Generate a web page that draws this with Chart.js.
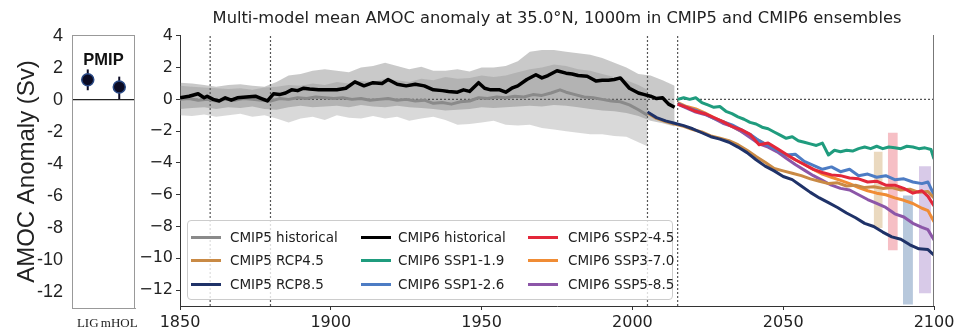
<!DOCTYPE html>
<html>
<head>
<meta charset="utf-8">
<script src="https://cdn.jsdelivr.net/npm/chart.js@4.4.1/dist/chart.umd.min.js"></script>
<style>
  body { margin: 0; background: #fff; width: 965px; height: 331px; position: relative; overflow: hidden; }
  #pmipChart { position: absolute; left: 0; top: 0; }
  #amocChart { position: absolute; left: 130px; top: 0; }
  #title { position: absolute; left: 180px; width: 754px; top: 8px; text-align: center;
           font: 16.3px 'DejaVu Sans'; color: #222; white-space: nowrap; }
  #pmipLabel { position: absolute; left: 72px; width: 63px; top: 50px; text-align: center;
               font: bold 16.5px 'Liberation Sans'; color: #111; }
  #legend { position: absolute; left: 187px; top: 220px; width: 486px; height: 80px; box-sizing: border-box;
            background: rgba(255,255,255,0.8); border: 1px solid #ccc; border-radius: 4px; }
  .item { position: absolute; font: 13.5px 'DejaVu Sans'; color: #222; white-space: nowrap; line-height: 16px; }
  .swatch { position: absolute; width: 30px; height: 3px; }
</style>
</head>
<body>
<canvas id="pmipChart" width="150" height="331"></canvas>
<canvas id="amocChart" width="835" height="331"></canvas>
<div id="title">Multi-model mean AMOC anomaly at 35.0°N, 1000m in CMIP5 and CMIP6 ensembles</div>
<div id="pmipLabel">PMIP</div>
<div id="legend"></div>
<script>
// AMOC anomaly at 35N, 1000m: PMIP panel plus CMIP5 / CMIP6 ensemble means.

const yTicks = [4, 2, 0, -2, -4, -6, -8, -10, -12];
const xTicks = [1850, 1900, 1950, 2000, 2050, 2100];
const refYears = [1860, 1880, 2005, 2015];

// PMIP
const pmipLabels = ['LIG', 'mHOL'];
const pmipMean = [1.25, 0.8];
const pmipHi = [1.9, 1.45];
const pmipLo = [0.6, 0.05];

// CMIP6 historical mean
const cmip6Years = [1850,1853,1856,1858,1859,1861,1863,1865,1867,1869,1872,1875,1877,1879,1881,1883,1885,1887,1889,1891,
    1893,1896,1899,1902,1905,1908,1911,1914,1917,1919,1922,1925,1928,1931,1934,1937,1939,1942,1944,1946,
    1949,1951,1953,1956,1958,1960,1962,1965,1968,1970,1972,1975,1978,1980,1982,1985,1987,1988,1990,1992,
    1994,1996,1999,2002,2004,2006,2008,2010,2012,2014];
const cmip6Hist = [0.1,0.2,0.35,0.1,0.2,0.0,-0.1,0.1,-0.05,0.1,0.15,0.2,0.05,-0.1,0.35,0.3,0.4,0.6,0.55,0.7,
    0.65,0.6,0.6,0.6,0.7,1.1,0.85,1.05,1.0,1.25,0.95,0.85,0.95,0.85,0.6,0.55,0.5,0.45,0.6,0.5,
    1.05,0.7,0.6,0.6,0.45,0.7,0.85,1.25,1.55,1.35,1.5,1.8,1.65,1.6,1.5,1.45,1.25,1.15,1.2,1.2,
    1.25,1.35,0.7,0.4,0.3,0.2,0.05,0.1,-0.3,-0.5];

// CMIP6 historical spread
const cmip6BandYears = [1850,1854,1858,1862,1866,1870,1874,1878,1882,1886,1890,1894,1898,1902,1906,1910,1914,1918,1922,1926,
    1930,1934,1938,1942,1946,1950,1954,1958,1962,1966,1970,1974,1978,1982,1986,1990,1994,1998,2002,2006,2010,2014];
const cmip6Hi = [1.05,1.0,0.9,0.8,0.9,0.95,0.85,0.8,1.1,1.5,1.6,1.8,1.9,1.8,1.7,2.0,2.1,2.3,2.1,1.9,
    2.05,1.8,1.8,1.9,1.75,2.0,2.0,2.1,2.4,3.0,3.1,3.1,3.0,2.9,2.8,2.6,2.3,2.0,1.6,1.5,1.2,0.85];
const cmip6Lo = [-0.6,-0.55,-0.5,-0.6,-0.5,-0.55,-0.45,-0.6,-0.65,-0.5,-0.4,-0.5,-0.45,-0.4,-0.5,-0.35,-0.45,-0.5,-0.4,-0.5,
    -0.55,-0.6,-0.7,-0.65,-0.6,-0.5,-0.55,-0.5,-0.45,-0.4,-0.45,-0.35,-0.4,-0.5,-0.6,-0.7,-0.75,-0.85,-1.05,-1.35,-1.5,-1.7];

// CMIP5 historical mean
const cmip5Years = [1850,1853,1856,1859,1862,1865,1868,1871,1874,1877,1880,1883,1886,1889,1892,1895,1898,1901,1904,1907,
    1910,1913,1916,1919,1922,1925,1928,1931,1934,1937,1940,1943,1946,1949,1952,1955,1958,1961,1964,1967,
    1970,1973,1976,1978,1981,1984,1987,1990,1993,1996,1999,2002,2005];
const cmip5Hist = [0.0,0.05,-0.05,0.0,-0.1,0.0,-0.05,0.05,0.0,-0.05,-0.1,0.05,0.0,0.1,0.05,0.15,0.1,0.05,0.1,0.0,
    0.05,-0.05,0.0,0.05,-0.05,0.0,-0.1,-0.05,-0.25,-0.2,-0.3,-0.15,-0.1,0.1,0.05,0.15,0.1,0.2,0.15,0.3,
    0.25,0.4,0.6,0.45,0.3,0.15,0.1,0.0,-0.1,-0.15,-0.35,-0.65,-1.0];

// CMIP5 historical spread
const cmip5BandYears = [1850,1854,1858,1862,1866,1870,1874,1878,1882,1886,1890,1894,1898,1902,1906,1910,1914,1918,1922,1926,
    1930,1934,1938,1942,1946,1950,1954,1958,1962,1966,1970,1974,1978,1982,1986,1990,1994,1998,2002,2005];
const cmip5Hi = [0.85,0.8,0.75,0.7,0.65,0.7,0.6,0.75,0.8,0.9,0.85,1.0,0.9,1.1,1.0,1.15,1.1,1.3,1.2,1.1,
    1.3,1.2,1.4,1.3,1.35,1.5,1.4,1.5,1.7,1.9,2.0,2.2,2.1,1.9,1.8,1.6,1.4,1.2,0.9,0.6];
const cmip5Lo = [-1.0,-1.05,-0.95,-1.1,-1.0,-0.9,-1.1,-1.0,-1.2,-1.45,-1.2,-1.1,-1.3,-1.0,-1.15,-1.2,-1.05,-1.2,-1.1,-1.35,
    -1.2,-1.1,-1.3,-1.6,-1.55,-1.45,-1.35,-1.6,-1.65,-1.6,-1.8,-1.9,-2.0,-2.1,-2.2,-2.2,-2.3,-2.35,-2.7,-2.95];

// CMIP5 scenarios
const rcpYears = [2005,2008,2011,2014,2017,2020,2023,2026,2029,2032,2035,2038,2041,2044,2047,2050,2053,2056,2059,2062,
    2065,2068,2071,2074,2077,2080,2083,2086,2089,2092,2095,2098,2100];
const rcp45 = [-0.85,-1.2,-1.4,-1.55,-1.7,-1.9,-2.05,-2.3,-2.45,-2.6,-2.85,-3.2,-3.6,-3.95,-4.35,-4.5,-4.65,-4.8,-5.0,-5.15,
    -5.3,-5.25,-5.45,-5.4,-5.55,-5.5,-5.6,-5.55,-5.7,-5.65,-5.85,-5.8,-6.2];
const rcp85 = [-0.8,-1.15,-1.35,-1.5,-1.65,-1.85,-2.1,-2.35,-2.5,-2.7,-3.0,-3.35,-3.8,-4.2,-4.5,-4.85,-5.05,-5.45,-5.85,-6.2,
    -6.5,-6.8,-7.15,-7.45,-7.8,-8.0,-8.35,-8.65,-8.8,-9.15,-9.4,-9.45,-9.8];

// CMIP6 scenarios
const ssp119Years = [2015,2017,2019,2021,2023,2025,2027,2029,2031,2033,2035,2037,2039,2041,2043,2045,2047,2049,2051,2053,
    2055,2057,2059,2061,2063,2065,2067,2069,2071,2073,2075,2077,2079,2081,2083,2085,2087,2089,2091,2093,
    2095,2097,2099,2100];
const ssp119 = [0.0,0.1,0.0,0.1,-0.2,-0.35,-0.5,-0.45,-0.75,-0.9,-1.1,-1.25,-1.45,-1.55,-1.75,-1.85,-2.05,-2.25,-2.45,-2.35,
    -2.6,-2.7,-2.8,-2.9,-2.75,-3.5,-3.2,-3.3,-3.2,-3.25,-3.1,-3.0,-3.1,-2.95,-3.1,-3.0,-3.05,-3.1,-2.95,-3.0,
    -3.1,-3.05,-3.15,-3.75];
const sspYears = [2015,2018,2021,2024,2027,2030,2033,2036,2039,2042,2045,2048,2051,2054,2057,2060,2063,2066,2069,2072,
    2075,2078,2081,2084,2087,2090,2093,2096,2098,2100];
const ssp126 = [-0.25,-0.5,-0.7,-0.9,-1.2,-1.4,-1.6,-1.9,-2.2,-2.6,-2.9,-3.2,-3.5,-3.45,-3.9,-4.15,-4.4,-4.25,-4.55,-4.4,
    -4.8,-4.7,-4.9,-4.8,-5.05,-5.0,-5.2,-5.3,-5.2,-6.0];
const ssp245 = [-0.3,-0.5,-0.75,-0.9,-1.15,-1.4,-1.7,-1.9,-2.2,-2.85,-2.75,-3.1,-3.45,-3.8,-4.1,-4.4,-4.6,-4.75,-4.8,-4.95,
    -5.0,-5.2,-5.15,-5.4,-5.4,-5.6,-5.9,-5.75,-6.1,-6.7];
const ssp370 = [-0.2,-0.45,-0.6,-0.85,-1.15,-1.4,-1.7,-2.0,-2.3,-2.6,-2.9,-3.2,-3.5,-3.8,-4.1,-4.4,-4.7,-4.9,-5.1,-5.3,
    -5.55,-5.75,-5.9,-6.0,-6.2,-6.35,-6.55,-6.85,-7.0,-7.7];
const ssp585 = [-0.3,-0.55,-0.8,-0.95,-1.2,-1.5,-1.7,-2.0,-2.4,-2.8,-3.0,-3.3,-3.7,-4.1,-4.45,-4.8,-5.1,-5.4,-5.6,-5.7,
    -6.0,-6.3,-6.55,-6.8,-7.2,-7.4,-7.8,-8.05,-8.2,-8.85];

// end-of-century spread strips
const spreadStart = [2080, 2084.7, 2089.7, 2095];
const spreadEnd = [2083, 2088, 2093, 2099];
const spreadHi = [-3.3, -2.1, -6.05, -4.2];
const spreadLo = [-8.1, -9.5, -12.9, -12.2];
const spreadColors = ['rgba(214,180,128,0.5)', 'rgba(234,112,126,0.45)', 'rgba(112,146,186,0.5)', 'rgba(168,138,204,0.45)'];

const seriesNames = ['CMIP5 historical', 'CMIP5 RCP4.5', 'CMIP5 RCP8.5',
    'CMIP6 historical', 'CMIP6 SSP1-1.9', 'CMIP6 SSP1-2.6',
    'CMIP6 SSP2-4.5', 'CMIP6 SSP3-7.0', 'CMIP6 SSP5-8.5'];
const seriesColors = ['#8a8a8a', '#c98a45', '#1f3268',
    '#000000', '#1f9c7e', '#4d7cc4',
    '#e3273a', '#f08c35', '#8c56a8'];

const yMin = -13, yMax = 4.05;

Chart.defaults.font.family = "'DejaVu Sans'";

const pts = (xs, ys) => xs.map((x, i) => ({x: x, y: ys[i]}));

const lineSet = (k, xs, ys, width, order) => ({
    label: seriesNames[k],
    data: pts(xs, ys),
    borderColor: seriesColors[k],
    borderWidth: width,
    pointRadius: 0,
    fill: false,
    borderJoinStyle: 'round',
    order: order
});

const band = (xs, hi, lo, color) => [
    {data: pts(xs, hi), borderWidth: 0, pointRadius: 0, fill: false, order: 9},
    {data: pts(xs, lo), borderWidth: 0, pointRadius: 0, fill: '-1', backgroundColor: color, order: 9}
];

const frame = {
    id: 'frame',
    afterDraw(chart, args, opts) {
        const {ctx, chartArea: a} = chart;
        ctx.save();
        ctx.strokeStyle = opts.color;
        ctx.lineWidth = 1;
        ctx.beginPath();
        if (opts.top) {
            ctx.moveTo(a.left, a.top + 0.5);
            ctx.lineTo(a.right, a.top + 0.5);
        }
        ctx.moveTo(a.right - 0.5, a.top);
        ctx.lineTo(a.right - 0.5, a.bottom);
        ctx.stroke();
        ctx.restore();
    }
};

const tickSetter = list => scale => { scale.ticks = list.map(v => ({value: v})); };

// left panel: PMIP
const pmipData = {
    labels: pmipLabels,
    datasets: [{
        data: pmipLabels.map((l, i) => ({x: l, y: pmipMean[i]})),
        showLine: false,
        pointRadius: 6,
        pointBackgroundColor: '#0b0b24',
        pointBorderColor: '#2a4a86',
        pointBorderWidth: 1.5,
        order: 0
    }].concat(pmipLabels.map((l, i) => ({
        data: [{x: l, y: pmipLo[i]}, {x: l, y: pmipHi[i]}],
        borderColor: '#0b0b24',
        borderWidth: 2,
        pointRadius: 0,
        order: 1
    })))
};

const pmipConfig = {
    type: 'line',
    data: pmipData,
    plugins: [frame],
    options: {
        responsive: false,
        animation: false,
        layout: {padding: {top: 35, right: 15, left: 0, bottom: 0}},
        plugins: {legend: {display: false}, tooltip: {enabled: false}, frame: {color: '#999', top: true}},
        scales: {
            x: {
                type: 'category',
                offset: true,
                grid: {display: false, drawTicks: false},
                border: {color: '#999'},
                ticks: {font: {family: "'Liberation Serif'", size: 13}, color: '#222', padding: 8, maxRotation: 0, autoSkip: false},
                afterFit: s => { s.height = 23; }
            },
            y: {
                min: yMin,
                max: yMax,
                afterBuildTicks: tickSetter(yTicks),
                afterFit: s => { s.width = 72; },
                title: {display: true, text: 'AMOC Anomaly (Sv)', font: {family: "'Liberation Sans'", size: 24}, color: '#222', padding: {top: 13, bottom: 0}},
                ticks: {font: {family: "'Liberation Sans'", size: 18}, color: '#222', padding: 9},
                grid: {drawTicks: false, color: c => (c.tick && c.tick.value === 0 ? '#222' : 'rgba(0,0,0,0)'), lineWidth: 1.2},
                border: {color: '#999'}
            }
        }
    }
};

const pmipChart = new Chart(document.getElementById('pmipChart'), pmipConfig);

// main panel: multi-model means
const refLines = refYears.map(yr => ({
    data: [{x: yr, y: yMin}, {x: yr, y: yMax}],
    borderColor: '#555', borderWidth: 1.2, borderDash: [2, 2], pointRadius: 0, fill: false, order: 8
})).concat([{
    data: [{x: xTicks[0], y: 0}, {x: xTicks[xTicks.length - 1], y: 0}],
    borderColor: '#555', borderWidth: 1.2, borderDash: [2, 2], pointRadius: 0, fill: false, order: 8
}]);

const spreadSets = spreadStart.flatMap((x0, i) =>
    band([x0, spreadEnd[i]], [spreadHi[i], spreadHi[i]], [spreadLo[i], spreadLo[i]], spreadColors[i]));

const amocData = {
    datasets: [
        lineSet(3, cmip6Years, cmip6Hist, 3.5, 0),
        lineSet(0, cmip5Years, cmip5Hist, 3, 1),
        lineSet(2, rcpYears, rcp85, 3, 2),
        lineSet(1, rcpYears, rcp45, 3, 3),
        lineSet(4, ssp119Years, ssp119, 3, 2),
        lineSet(5, sspYears, ssp126, 3, 3),
        lineSet(6, sspYears, ssp245, 3, 2),
        lineSet(7, sspYears, ssp370, 3, 4),
        lineSet(8, sspYears, ssp585, 3, 3),
        ...refLines,
        ...band(cmip5BandYears, cmip5Hi, cmip5Lo, 'rgba(128,128,128,0.3)'),
        ...band(cmip6BandYears, cmip6Hi, cmip6Lo, 'rgba(100,100,100,0.35)'),
        ...spreadSets
    ]
};

const amocConfig = {
    type: 'line',
    data: amocData,
    plugins: [frame],
    options: {
        responsive: false,
        animation: false,
        layout: {padding: {top: 35, right: 31, left: 0, bottom: 0}},
        plugins: {
            legend: {display: false},
            tooltip: {enabled: false},
            filler: {drawTime: 'beforeDatasetsDraw'},
            frame: {color: '#777', top: false}
        },
        scales: {
            x: {
                type: 'linear',
                min: xTicks[0],
                max: xTicks[xTicks.length - 1],
                afterBuildTicks: tickSetter(xTicks),
                afterFit: s => { s.height = 25; },
                ticks: {font: {size: 16}, color: '#222', padding: 3, maxRotation: 0, callback: v => String(v)},
                grid: {drawOnChartArea: false, tickLength: 4, color: '#333'},
                border: {color: '#333'}
            },
            y: {
                min: yMin,
                max: yMax,
                afterBuildTicks: tickSetter(yTicks),
                afterFit: s => { s.width = 50; },
                ticks: {font: {size: 16}, color: '#222', padding: 3, callback: v => String(v).replace('-', '\u2212')},
                grid: {drawOnChartArea: false, tickLength: 4, color: '#333'},
                border: {color: '#333'}
            }
        }
    }
};

const amocChart = new Chart(document.getElementById('amocChart'), amocConfig);

// legend, three entries per column
const legendBox = document.getElementById('legend');
const colLine = [3, 173, 340];
const colText = [42, 210, 380];
const rowMid = [16, 39, 63];
seriesNames.forEach((name, k) => {
    const col = Math.floor(k / 3), row = k % 3;
    const sw = document.createElement('div');
    sw.className = 'swatch';
    sw.style.left = colLine[col] + 'px';
    sw.style.top = (rowMid[row] - 1.5) + 'px';
    sw.style.background = seriesColors[k];
    legendBox.appendChild(sw);
    const tx = document.createElement('div');
    tx.className = 'item';
    tx.style.left = colText[col] + 'px';
    tx.style.top = (rowMid[row] - 8) + 'px';
    tx.textContent = name;
    legendBox.appendChild(tx);
});
</script>
</body>
</html>
